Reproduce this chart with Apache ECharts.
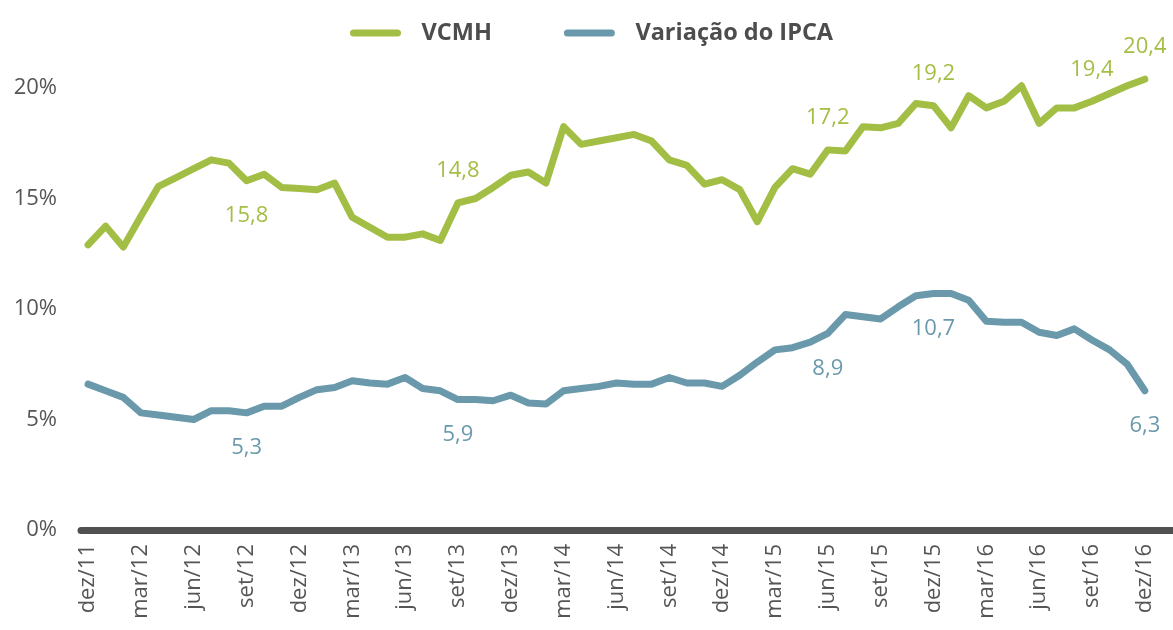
<!DOCTYPE html>
<html>
<head>
<meta charset="utf-8">
<script src="https://cdn.jsdelivr.net/npm/echarts@6/dist/echarts.min.js"></script>
<style>
    html, body { margin: 0; padding: 0; background: #fff; }
    #chart { width: 1173px; height: 630px; }
</style>
</head>
<body>
<div id="chart"></div>
<script>
// meses (dez/11 a dez/16)
const months = [
    'dez/11', 'jan/12', 'fev/12', 'mar/12', 'abr/12', 'mai/12', 'jun/12', 'jul/12', 'ago/12', 'set/12', 'out/12', 'nov/12',
    'dez/12', 'jan/13', 'fev/13', 'mar/13', 'abr/13', 'mai/13', 'jun/13', 'jul/13', 'ago/13', 'set/13', 'out/13', 'nov/13',
    'dez/13', 'jan/14', 'fev/14', 'mar/14', 'abr/14', 'mai/14', 'jun/14', 'jul/14', 'ago/14', 'set/14', 'out/14', 'nov/14',
    'dez/14', 'jan/15', 'fev/15', 'mar/15', 'abr/15', 'mai/15', 'jun/15', 'jul/15', 'ago/15', 'set/15', 'out/15', 'nov/15',
    'dez/15', 'jan/16', 'fev/16', 'mar/16', 'abr/16', 'mai/16', 'jun/16', 'jul/16', 'ago/16', 'set/16', 'out/16', 'nov/16',
    'dez/16'
]
// rótulos do eixo x (a cada 3 meses)
const tickLabels = ['dez/11', 'mar/12', 'jun/12', 'set/12', 'dez/12', 'mar/13', 'jun/13', 'set/13', 'dez/13', 'mar/14', 'jun/14',
    'set/14', 'dez/14', 'mar/15', 'jun/15', 'set/15', 'dez/15', 'mar/16', 'jun/16', 'set/16', 'dez/16']

const vcmh = [
    12.9, 13.75, 12.8, 14.2, 15.55, 15.95, 16.35, 16.75, 16.6, 15.8, 16.1, 15.5,
    15.45, 15.4, 15.7, 14.15, 13.7, 13.25, 13.25, 13.4, 13.1, 14.8, 15.0, 15.5,
    16.05, 16.2, 15.7, 18.25, 17.45, 17.6, 17.75, 17.9, 17.6, 16.75, 16.5, 15.65,
    15.85, 15.4, 13.95, 15.5, 16.35, 16.1, 17.2, 17.15, 18.25, 18.2, 18.4, 19.3,
    19.2, 18.2, 19.65, 19.1, 19.4, 20.1, 18.4, 19.1, 19.1, 19.4, 19.75, 20.1,
    20.4
]
const ipca = [
    6.6, 6.3, 6.0, 5.3, 5.2, 5.1, 5.0, 5.4, 5.4, 5.3, 5.6, 5.6,
    6.0, 6.35, 6.45, 6.75, 6.65, 6.6, 6.9, 6.4, 6.3, 5.9, 5.9, 5.85,
    6.1, 5.75, 5.7, 6.3, 6.4, 6.5, 6.65, 6.6, 6.6, 6.9, 6.65, 6.65,
    6.5, 7.0, 7.6, 8.15, 8.25, 8.5, 8.9, 9.75, 9.65, 9.55, 10.1, 10.6,
    10.7, 10.7, 10.4, 9.45, 9.4, 9.4, 8.95, 8.8, 9.1, 8.6, 8.15, 7.5,
    6.3
]
// pontos com rótulo de valor
const vcmhLabelIdx = ['set/12', 'set/13', 'jun/15', 'dez/15', 'set/16', 'dez/16']
const vcmhLabelPos = ['bottom', 'top', 'top', 'top', 'top', 'top']
const ipcaLabelIdx = ['set/12', 'set/13', 'jun/15', 'dez/15', 'dez/16']

const green = '#a3be44'
const blue = '#6a99ac'
const textColor = '#555555'
const font = '"Open Sans", "Noto Sans", sans-serif'

const fmt = v => v.toFixed(1).replace('.', ',')

const buildData = (values, labelMonths, labelPos, color) => values.map((v, i) => {
    const k = labelMonths.indexOf(months[i])
    const item = { value: [i, v] }
    if (k >= 0) {
        const pos = labelPos ? labelPos[k] : 'bottom'
        item.label = {
            show: true,
            position: pos,
            distance: pos === 'top' ? 21 : 24,
            color: color,
            fontFamily: font,
            fontSize: 22,
            formatter: p => fmt(p.value[1])
        }
    }
    return item
})

const legendIcon = 'path://M3.5,0 H47.5 A3.5,3.5 0 0 1 47.5,7 H3.5 A3.5,3.5 0 0 1 3.5,0 Z'

const chart = echarts.init(document.getElementById('chart'))
chart.setOption({
    animation: false,
    legend: {
        top: 16,
        left: 345,
        itemWidth: 54,
        itemHeight: 7,
        itemGap: 72,
        icon: legendIcon,
        data: ['VCMH', 'Variação do IPCA'],
        textStyle: {
            color: '#4d4d4d',
            fontFamily: font,
            fontWeight: 'bold',
            fontSize: 23.5,
            padding: [0, 0, 0, 14]
        }
    },
    grid: {
        left: 81,
        right: 0,
        top: 88,
        bottom: 100
    },
    xAxis: {
        type: 'value',
        min: -0.4,
        max: 61.6,
        splitLine: { show: false },
        axisTick: { show: false },
        axisLine: {
            show: true,
            lineStyle: { color: '#505050', width: 7, cap: 'round' }
        },
        axisLabel: {
            rotate: 90,
            margin: 14,
            color: textColor,
            fontFamily: font,
            fontSize: 22,
            customValues: tickLabels.map(t => months.indexOf(t)),
            formatter: v => months[Math.round(v)]
        }
    },
    yAxis: {
        type: 'value',
        min: 0,
        max: 20,
        interval: 5,
        axisLine: { show: false },
        axisTick: { show: false },
        splitLine: { show: false },
        axisLabel: {
            margin: 24,
            color: textColor,
            fontFamily: font,
            fontSize: 22,
            formatter: '{value}%'
        }
    },
    series: [
        {
            name: 'VCMH',
            type: 'line',
            clip: false,
            showSymbol: true,
            symbol: 'circle',
            symbolSize: 0,
            color: green,
            lineStyle: { color: green, width: 7, cap: 'round', join: 'round' },
            data: buildData(vcmh, vcmhLabelIdx, vcmhLabelPos, green)
        },
        {
            name: 'Variação do IPCA',
            type: 'line',
            clip: false,
            showSymbol: true,
            symbol: 'circle',
            symbolSize: 0,
            color: blue,
            lineStyle: { color: blue, width: 7, cap: 'round', join: 'round' },
            data: buildData(ipca, ipcaLabelIdx, null, blue)
        }
    ]
})
</script>
</body>
</html>
